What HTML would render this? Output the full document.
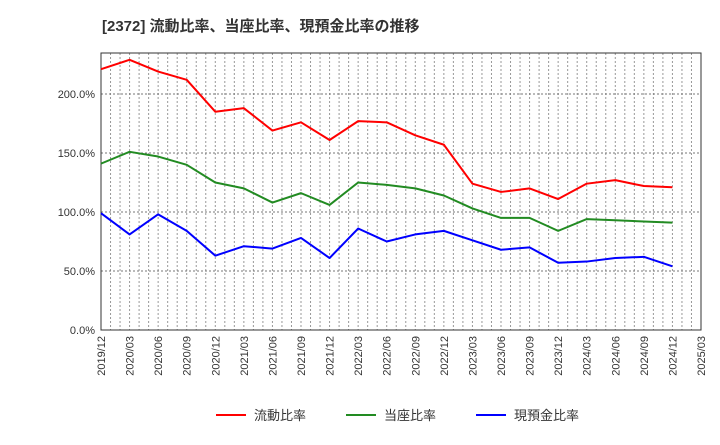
<!DOCTYPE html>
<html><head><meta charset="utf-8"><style>
body{margin:0;background:#fff;font-family:"Liberation Sans","Noto Sans CJK JP",sans-serif}
</style></head><body>
<svg width="720" height="440" xmlns="http://www.w3.org/2000/svg" font-family="Liberation Sans, Noto Sans CJK JP, sans-serif">
<text x="102" y="31" font-size="15" font-weight="bold" fill="#333">[2372]  流動比率、当座比率、現預金比率の推移</text>
<g id="grid"></g>
<g id="axes"></g>
<g id="lines"></g>
<g id="legend"></g>
</svg>
<script>
const categories=["2019/12","2020/03","2020/06","2020/09","2020/12","2021/03","2021/06","2021/09","2021/12","2022/03","2022/06","2022/09","2022/12","2023/03","2023/06","2023/09","2023/12","2024/03","2024/06","2024/09","2024/12","2025/03"];
const currentRatio=[221,229,219,212,185,188,169,176,161,177,176,165,157,124,117,120,111,124,127,122,121];
const quickRatio=[141,151,147,140,125,120,108,116,106,125,123,120,114,103,95,95,84,94,93,92,91];
const cashRatio=[99,81,98,84,63,71,69,78,61,86,75,81,84,76,68,70,57,58,61,62,54];
const yTicks=[0,50,100,150,200];
const seriesNames=["流動比率","当座比率","現預金比率"];
const colors=["#ff0000","#228b22","#0000ff"];
const NS="http://www.w3.org/2000/svg";
const L=101,R=701,T=53,B=330;
const xq=i=>L+i*(R-L)/(categories.length-1);
const y=v=>B-v*1.18;
function mk(tag,attrs,parent){const e=document.createElementNS(NS,tag);for(const k in attrs)e.setAttribute(k,attrs[k]);document.getElementById(parent).appendChild(e);return e;}
// monthly vertical grid
const months=(categories.length-1)*3;
for(let m=1;m<months;m++){const x=L+m*(R-L)/months;
const g=mk("line",{x1:x,x2:x,y1:T,y2:B,stroke:"#999","stroke-width":1,"stroke-dasharray":"2,2"},"grid");

}
yTicks.forEach(v=>{if(v>0){const g=mk("line",{x1:L,x2:R,y1:y(v),y2:y(v),stroke:"#777","stroke-width":1,"stroke-dasharray":"2,2"},"grid");

}
const t=mk("text",{x:L-6,y:y(v)+4,"text-anchor":"end","font-size":11,fill:"#333"},"axes");t.textContent=v.toFixed(1)+"%";

});
const fr=mk("rect",{x:L,y:T,width:R-L,height:B-T,fill:"none",stroke:"#333","stroke-width":1},"axes");


categories.forEach((c,i)=>{const x=xq(i);const t=mk("text",{x:0,y:0,"text-anchor":"end","font-size":11,fill:"#333",transform:`translate(${x+4},${B+6}) rotate(-90)`},"axes");t.textContent=c;

});
[currentRatio,quickRatio,cashRatio].forEach((s,k)=>{const p=mk("polyline",{points:s.map((v,i)=>xq(i)+","+y(v)).join(" "),fill:"none",stroke:colors[k],"stroke-width":2,"stroke-linejoin":"round"},"lines");


const lx=[216,346,476][k];
const ll=mk("line",{x1:lx,x2:lx+30,y1:415,y2:415,stroke:colors[k],"stroke-width":2},"legend");


const lt=mk("text",{x:lx+38,y:420,"font-size":13,fill:"#333"},"legend");lt.textContent=seriesNames[k];

});
</script>
</body></html>
